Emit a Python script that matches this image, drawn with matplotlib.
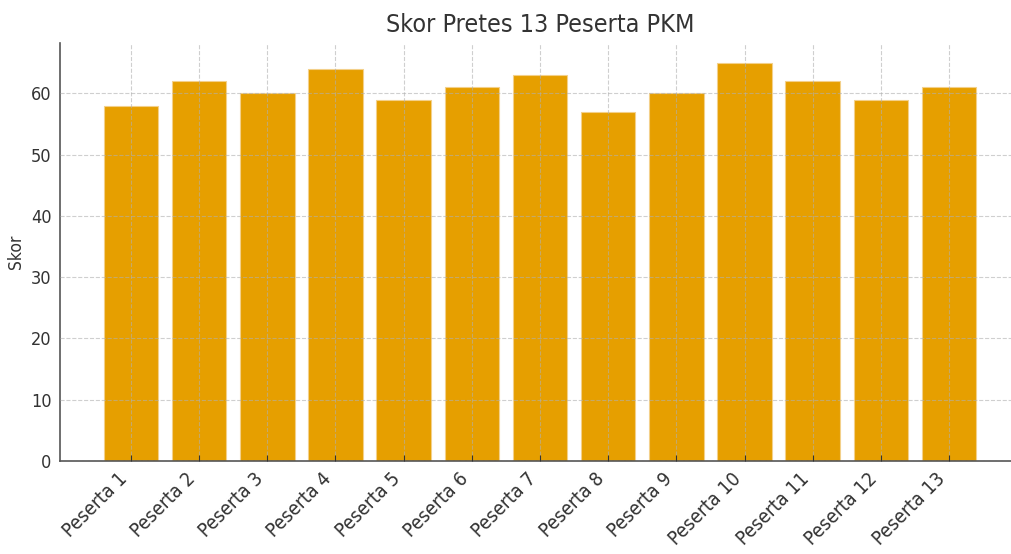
import matplotlib.pyplot as plt

peserta = ["Peserta %d" % i for i in range(1, 14)]
skor = [58, 62, 60, 64, 59, 61, 63, 57, 60, 65, 62, 59, 61]

plt.rcParams["font.stretch"] = "condensed"

fig = plt.figure(figsize=(10.12, 5.54), dpi=100)
ax = fig.add_axes([0.0593, 0.168, 0.9486, 0.7545])

ax.bar(peserta, skor, width=0.8, color="#E69F00", edgecolor="#f3d08a", linewidth=0.8)

ax.set_title("Skor Pretes 13 Peserta PKM", fontsize=18, color="#333333", pad=8)
ax.set_ylabel("Skor", fontsize=12.5, color="#333333")
ax.set_ylim(0, 68.25)
ax.set_xlim(-1.04, 13.04)

ax.grid(True, linestyle="--", color="#b0b0b0", alpha=0.6, linewidth=0.8)
ax.set_axisbelow(False)

for s in ["top", "right"]:
    ax.spines[s].set_visible(False)
for s in ["left", "bottom"]:
    ax.spines[s].set_color("#555555")
    ax.spines[s].set_linewidth(1.2)

ax.tick_params(axis="x", direction="in", length=4, colors="#333333", labelsize=14, pad=6)
ax.tick_params(axis="y", length=0, colors="#333333", labelsize=13, pad=6)
plt.setp(ax.get_xticklabels(), rotation=45, ha="right")

fig.savefig("out.png", dpi=100)
